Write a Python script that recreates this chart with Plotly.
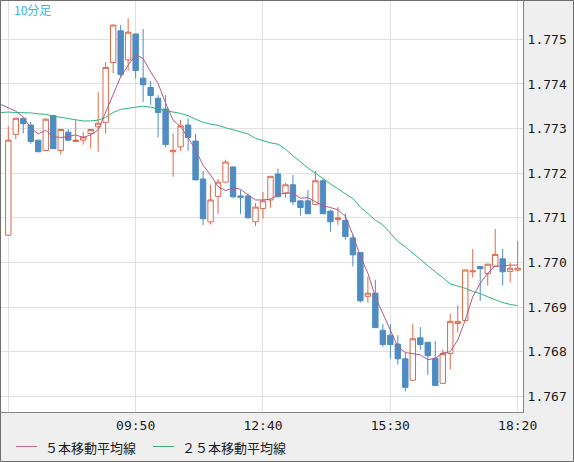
import plotly.graph_objects as go

# time categories (10-minute bars); first entry only carries the moving averages
times = []
h, m = 6, 50
for _ in range(70):
    times.append(f"{h:02d}:{m:02d}")
    m += 10
    if m == 60:
        h += 1
        m = 0
candle_times = times[1:]

opens = [1.77061, 1.77287, 1.77323, 1.77308, 1.77274, 1.77251, 1.77329, 1.77251, 1.77292, 1.77271,
         1.77274, 1.77289, 1.77304, 1.77314, 1.77448, 1.77519, 1.77454, 1.77512, 1.77413, 1.77392,
         1.77368, 1.77344, 1.77248, 1.77259, 1.77308, 1.77272, 1.77187, 1.77091, 1.77148, 1.77180,
         1.77214, 1.77149, 1.77149, 1.77091, 1.77121, 1.77140, 1.77198, 1.77155, 1.77174, 1.77138,
         1.77138, 1.77130, 1.77183, 1.77115, 1.77096, 1.77094, 1.77055, 1.77022, 1.76924, 1.76931,
         1.76848, 1.76837, 1.76817, 1.76784, 1.76736, 1.76831, 1.76821, 1.76785, 1.76729, 1.76796,
         1.76863, 1.76870, 1.76979, 1.76991, 1.76975, 1.76991, 1.77008, 1.76980, 1.76983]
highs = [1.77305, 1.77323, 1.77326, 1.77314, 1.77275, 1.77323, 1.77331, 1.77299, 1.77299, 1.77319,
         1.77292, 1.77299, 1.77382, 1.77449, 1.77533, 1.77532, 1.77547, 1.77512, 1.77523, 1.77407,
         1.77375, 1.77375, 1.77289, 1.77319, 1.77323, 1.77288, 1.77205, 1.77174, 1.77187, 1.77230,
         1.77215, 1.77162, 1.77155, 1.77133, 1.77158, 1.77193, 1.77210, 1.77178, 1.77196, 1.77139,
         1.77162, 1.77205, 1.77187, 1.77118, 1.77124, 1.77110, 1.77062, 1.77023, 1.76968, 1.76961,
         1.76862, 1.76862, 1.76837, 1.76798, 1.76862, 1.76855, 1.76822, 1.76824, 1.76805, 1.76885,
         1.76904, 1.76984, 1.77030, 1.76992, 1.76997, 1.77075, 1.77030, 1.76999, 1.77048]
lows = [1.77061, 1.77276, 1.77289, 1.77266, 1.77248, 1.77250, 1.77255, 1.77242, 1.77272, 1.77270,
        1.77264, 1.77255, 1.77248, 1.77289, 1.77424, 1.77415, 1.77430, 1.77412, 1.77360, 1.77353,
        1.77280, 1.77258, 1.77192, 1.77250, 1.77250, 1.77185, 1.77084, 1.77085, 1.77109, 1.77180,
        1.77145, 1.77109, 1.77098, 1.77082, 1.77098, 1.77123, 1.77147, 1.77145, 1.77129, 1.77105,
        1.77109, 1.77130, 1.77109, 1.77069, 1.77084, 1.77051, 1.76991, 1.76910, 1.76910, 1.76854,
        1.76811, 1.76784, 1.76771, 1.76711, 1.76735, 1.76804, 1.76748, 1.76723, 1.76728, 1.76760,
        1.76843, 1.76869, 1.76966, 1.76914, 1.76948, 1.76990, 1.76948, 1.76955, 1.76980]
closes = [1.77274, 1.77323, 1.77311, 1.77271, 1.77248, 1.77321, 1.77255, 1.77298, 1.77274, 1.77274,
          1.77281, 1.77298, 1.77312, 1.77437, 1.77532, 1.77421, 1.77516, 1.77430, 1.77398, 1.77374,
          1.77336, 1.77264, 1.77251, 1.77306, 1.77280, 1.77185, 1.77098, 1.77140, 1.77180, 1.77225,
          1.77147, 1.77146, 1.77100, 1.77124, 1.77138, 1.77193, 1.77147, 1.77174, 1.77136, 1.77123,
          1.77109, 1.77183, 1.77109, 1.77091, 1.77100, 1.77058, 1.77017, 1.76914, 1.76931, 1.76854,
          1.76816, 1.76816, 1.76784, 1.76720, 1.76829, 1.76816, 1.76791, 1.76724, 1.76796, 1.76868,
          1.76868, 1.76983, 1.76981, 1.76986, 1.76996, 1.77018, 1.76979, 1.76987, 1.76987]

ma5 = [1.77354, 1.77347, 1.77339, 1.77326, 1.77301, 1.77288, 1.77296, 1.77282, 1.77280, 1.77282,
       1.77286, 1.77280, 1.77286, 1.77297, 1.77337, 1.77380, 1.77416, 1.77442, 1.77466, 1.77457,
       1.77427, 1.77401, 1.77357, 1.77319, 1.77304, 1.77280, 1.77252, 1.77218, 1.77196, 1.77170,
       1.77161, 1.77167, 1.77164, 1.77151, 1.77140, 1.77140, 1.77142, 1.77151, 1.77156, 1.77155,
       1.77144, 1.77145, 1.77136, 1.77127, 1.77123, 1.77118, 1.77103, 1.77062, 1.77013, 1.76976,
       1.76923, 1.76886, 1.76849, 1.76811, 1.76798, 1.76795, 1.76793, 1.76782, 1.76785, 1.76797,
       1.76800, 1.76826, 1.76871, 1.76923, 1.76953, 1.76976, 1.76992, 1.76992, 1.76994, 1.76994]
ma25 = [1.77336, 1.77337, 1.77336, 1.77336, 1.77335, 1.77333, 1.77332, 1.77328, 1.77325, 1.77323,
        1.77319, 1.77317, 1.77317, 1.77319, 1.77325, 1.77336, 1.77343, 1.77346, 1.77348, 1.77350,
        1.77348, 1.77344, 1.77340, 1.77337, 1.77334, 1.77329, 1.77321, 1.77314, 1.77310, 1.77307,
        1.77302, 1.77297, 1.77293, 1.77288, 1.77278, 1.77273, 1.77268, 1.77265, 1.77254, 1.77239,
        1.77225, 1.77212, 1.77200, 1.77187, 1.77176, 1.77165, 1.77153, 1.77143, 1.77124, 1.77109,
        1.77095, 1.77084, 1.77066, 1.77047, 1.77035, 1.77021, 1.77006, 1.76991, 1.76979, 1.76966,
        1.76952, 1.76947, 1.76942, 1.76935, 1.76930, 1.76923, 1.76917, 1.76910, 1.76906, 1.76903]

tick_times = ["07:00", "09:50", "12:40", "15:30", "18:20"]
tick_labels = ["", "09:50", "12:40", "15:30", "18:20"]
price_ticks = [1.767, 1.768, 1.769, 1.770, 1.771, 1.772, 1.773, 1.774, 1.775]

title_text = "10分足"
legend_names = ["５本移動平均線", "２５本移動平均線"]

UP = "#dc6a4c"
DOWN = "#4e8cc2"
MA5_C = "#b55a8c"
MA25_C = "#2fb47c"

fig = go.Figure()
fig.add_trace(go.Candlestick(
    x=candle_times, open=opens, high=highs, low=lows, close=closes,
    increasing=dict(line=dict(color=UP, width=1), fillcolor="white"),
    decreasing=dict(line=dict(color=DOWN, width=1), fillcolor=DOWN),
    showlegend=False, hoverinfo="skip"))
fig.add_trace(go.Scatter(x=times, y=ma25, mode="lines",
                         line=dict(color=MA25_C, width=1), showlegend=False, hoverinfo="skip"))
fig.add_trace(go.Scatter(x=times, y=ma5, mode="lines",
                         line=dict(color=MA5_C, width=1), showlegend=False, hoverinfo="skip"))

W, H = 574, 462
L, R, T, B = 1, 51, 1, 50
pw, ph = W - L - R, H - T - B

def px_x(x):
    return (x - L) / pw

def px_y(y):
    return (H - B - y) / ph

fig.update_layout(
    width=W, height=H,
    margin=dict(l=L, r=R, t=T, b=B, pad=0),
    paper_bgcolor="#efefef", plot_bgcolor="white",
    boxgap=0.28, boxgroupgap=0,
    showlegend=False,
    xaxis=dict(type="category", categoryorder="array", categoryarray=times,
               range=[0.026, 69.71], rangeslider=dict(visible=False),
               tickmode="array", tickvals=tick_times, ticktext=tick_labels,
               showgrid=True, gridcolor="#e0e0e0", gridwidth=1,
               showline=True, mirror=True, linecolor="#858585", linewidth=1,
               ticks="", ticklabelstandoff=1,
               tickfont=dict(family="DejaVu Sans Mono", size=13, color="#1a1a1a"),
               fixedrange=True),
    yaxis=dict(side="right", range=[1.766648, 1.775859],
               tickmode="array", tickvals=price_ticks, tickformat=".3f",
               showgrid=True, gridcolor="#e0e0e0", gridwidth=1,
               showline=True, mirror=True, linecolor="#858585", linewidth=1,
               ticks="", ticklabelstandoff=1, zeroline=False,
               tickfont=dict(family="DejaVu Sans Mono", size=13, color="#1a1a1a"),
               fixedrange=True),
    font=dict(family="Noto Sans CJK JP"),
)

shapes = [
    # outer frame
    dict(type="rect", xref="paper", yref="paper",
         x0=px_x(0.5), x1=px_x(W - 0.5), y0=px_y(H - 0.5), y1=px_y(0.5),
         line=dict(color="#6f6f6f", width=1)),
    # legend samples
    dict(type="line", xref="paper", yref="paper",
         x0=px_x(16), x1=px_x(37), y0=px_y(446.5), y1=px_y(446.5),
         line=dict(color="#c06a8e", width=1)),
    dict(type="line", xref="paper", yref="paper",
         x0=px_x(153), x1=px_x(174), y0=px_y(446.5), y1=px_y(446.5),
         line=dict(color="#3aaa7c", width=1)),
]
fig.update_layout(shapes=shapes)

fig.add_annotation(text=title_text, xref="paper", yref="paper",
                   x=px_x(13), y=px_y(10), xanchor="left", yanchor="middle",
                   showarrow=False, borderpad=0,
                   font=dict(family="Noto Sans CJK JP", size=12, color="#3ab4e8"))
fig.add_annotation(text=legend_names[0], xref="paper", yref="paper",
                   x=px_x(44), y=px_y(447), xanchor="left", yanchor="middle",
                   showarrow=False, borderpad=0,
                   font=dict(family="Noto Sans CJK JP", size=13, color="#1a1a1a"))
fig.add_annotation(text=legend_names[1], xref="paper", yref="paper",
                   x=px_x(181), y=px_y(447), xanchor="left", yanchor="middle",
                   showarrow=False, borderpad=0,
                   font=dict(family="Noto Sans CJK JP", size=13, color="#1a1a1a"))

fig.write_html("out.html", config=dict(displayModeBar=False))
